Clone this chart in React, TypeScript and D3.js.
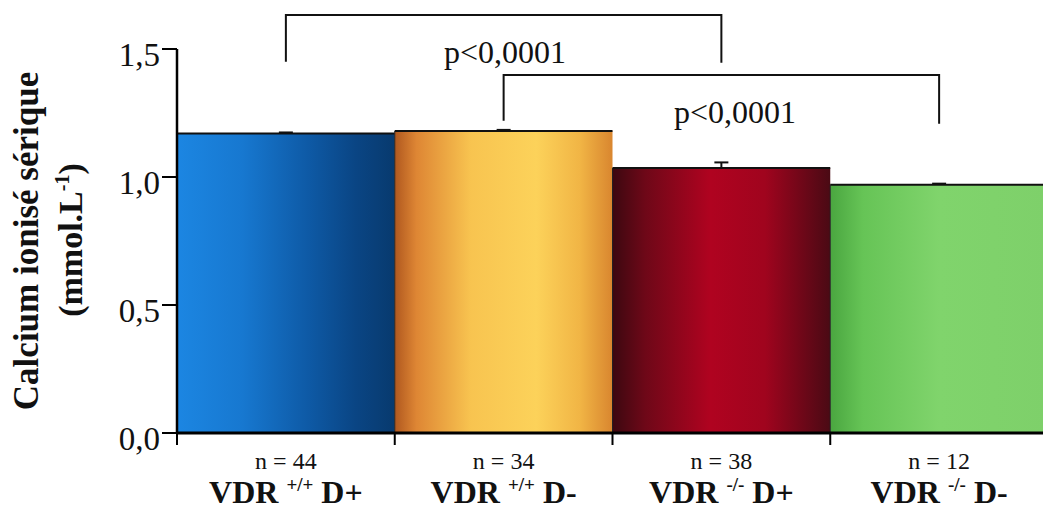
import React from "react";
import * as d3 from "d3";

const width = 1043;
const height = 518;

// data
const groups = ["VDR +/+ D+", "VDR +/+ D-", "VDR -/- D+", "VDR -/- D-"];
const genotype = ["+/+", "+/+", "-/-", "-/-"];
const diet = ["D+", "D-", "D+", "D-"];
const means = [1.17, 1.18, 1.035, 0.97];
const sems = [0.004, 0.004, 0.022, 0.004];
const counts = [44, 34, 38, 12];
const yTicks = [0, 0.5, 1.0, 1.5];
const comparisons = [
  { from: 0, to: 2, label: "p<0,0001" },
  { from: 1, to: 3, label: "p<0,0001" },
];

// gradient stops per bar (left -> right)
const gradients = [
  [
    ["0%", "#1c86e2"],
    ["30%", "#1778d0"],
    ["60%", "#0e5aa6"],
    ["82%", "#0a4584"],
    ["100%", "#083a6e"],
  ],
  [
    ["0%", "#b0581f"],
    ["10%", "#de8634"],
    ["35%", "#f8c450"],
    ["65%", "#fcd25a"],
    ["85%", "#f1b545"],
    ["100%", "#d9862f"],
  ],
  [
    ["0%", "#3c0810"],
    ["15%", "#6e0818"],
    ["45%", "#b00320"],
    ["70%", "#a0041e"],
    ["100%", "#4a0a14"],
  ],
  [
    ["0%", "#4aa640"],
    ["15%", "#66c456"],
    ["50%", "#80d46c"],
    ["100%", "#7ed06a"],
  ],
];

const font = "'Liberation Serif', 'Times New Roman', serif";

export default function App() {
  const x = d3.scaleBand().domain(groups).range([177, 1048]).padding(0);
  const y = d3.scaleLinear().domain([0, 1.5]).range([433, 49]);
  const bw = x.bandwidth();
  const cx = (i: number) => (x(groups[i]) as number) + bw / 2;
  const midY = (y(0) + y(1.5)) / 2;

  return (
    <svg
      width={width}
      height={height}
      style={{ position: "absolute", left: 0, top: 0, background: "#fff" }}
      fontFamily={font}
    >
      <defs>
        {gradients.map((stops, i) => (
          <linearGradient key={i} id={`g${i}`} x1="0" x2="1" y1="0" y2="0">
            {stops.map(([o, c]) => (
              <stop key={o} offset={o} stopColor={c} />
            ))}
          </linearGradient>
        ))}
      </defs>

      {/* bars */}
      {groups.map((g, i) => (
        <g key={g}>
          <rect
            x={x(g)}
            y={y(means[i])}
            width={bw}
            height={y(0) - y(means[i])}
            fill={`url(#g${i})`}
          />
          <line
            x1={x(g)}
            x2={(x(g) as number) + bw}
            y1={y(means[i])}
            y2={y(means[i])}
            stroke="#111"
            strokeWidth={2}
          />
          <line
            x1={x(g)}
            x2={x(g)}
            y1={y(means[i])}
            y2={y(0)}
            stroke="#222"
            strokeWidth={1}
          />
          {/* error bar */}
          <line
            x1={cx(i)}
            x2={cx(i)}
            y1={y(means[i])}
            y2={y(means[i] + sems[i])}
            stroke="#111"
            strokeWidth={2}
          />
          <line
            x1={cx(i) - 7}
            x2={cx(i) + 7}
            y1={y(means[i] + sems[i])}
            y2={y(means[i] + sems[i])}
            stroke="#111"
            strokeWidth={2}
          />
        </g>
      ))}

      {/* y axis */}
      <line x1={177} x2={177} y1={y(1.5)} y2={y(0) + 1} stroke="#000" strokeWidth={2.5} />
      {yTicks.map((t) => (
        <g key={t}>
          <line x1={162} x2={177} y1={y(t)} y2={y(t)} stroke="#000" strokeWidth={2} />
          <text
            x={160}
            y={y(t) + 17}
            textAnchor="end"
            fontSize={33}
            fill="#111"
          >
            {d3.format(".1f")(t).replace(".", ",")}
          </text>
        </g>
      ))}

      {/* x axis */}
      <line x1={177} x2={1043} y1={y(0)} y2={y(0)} stroke="#000" strokeWidth={3} />
      {groups.map((g) => (
        <line
          key={g}
          x1={x(g)}
          x2={x(g)}
          y1={y(0)}
          y2={y(0) + 12}
          stroke="#000"
          strokeWidth={2}
        />
      ))}
      {groups.map((g, i) => (
        <g key={g}>
          <text x={cx(i)} y={469} textAnchor="middle" fontSize={24} fill="#111">
            n = {counts[i]}
          </text>
          <text
            x={cx(i)}
            y={503}
            textAnchor="middle"
            fontSize={32}
            fontWeight="bold"
            fill="#111"
          >
            VDR{" "}
            <tspan fontSize={19} dy={-12}>
              {genotype[i]}
            </tspan>
            <tspan dy={12}> {diet[i]}</tspan>
          </text>
        </g>
      ))}

      {/* y label */}
      <text
        transform={`translate(38,${midY}) rotate(-90)`}
        textAnchor="middle"
        fontSize={35}
        fontWeight="bold"
        fill="#111"
      >
        Calcium ionisé sérique
      </text>
      <text
        transform={`translate(82,${midY - 1}) rotate(-90)`}
        textAnchor="middle"
        fontSize={34}
        fontWeight="bold"
        fill="#111"
      >
        (mmol.L
        <tspan fontSize={20} dy={-13}>
          -1
        </tspan>
        <tspan dy={13}>)</tspan>
      </text>

      {/* significance brackets */}
      {comparisons.map((c, k) => {
        const top = k === 0 ? y(1.633) : y(1.398);
        const bottom = k === 0 ? y(1.45) : y(1.22);
        const x1 = cx(c.from);
        const x2 = cx(c.to);
        return (
          <g key={k}>
            <path
              d={`M${x1},${bottom}V${top}H${x2}V${bottom + (k === 0 ? 1 : 3)}`}
              fill="none"
              stroke="#111"
              strokeWidth={2}
            />
            <text
              x={k === 0 ? 505 : 735}
              y={top + 48}
              textAnchor="middle"
              fontSize={32}
              fill="#111"
            >
              {c.label}
            </text>
          </g>
        );
      })}
    </svg>
  );
}
